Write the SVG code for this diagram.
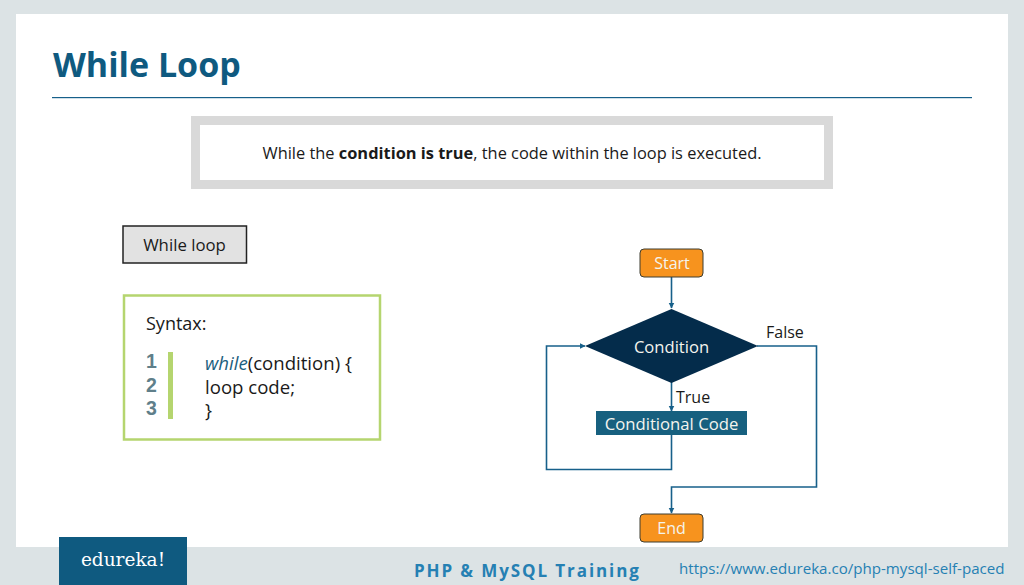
<svg xmlns="http://www.w3.org/2000/svg" width="1024" height="585" viewBox="0 0 1024 585">
<defs>
<style>
text{font-family:"Open Sans","Noto Sans","Liberation Sans",sans-serif;fill:#1a1a1a}
.c{text-anchor:middle}
.w{fill:#f4f4ee}
.conn{fill:none;stroke:#17608a;stroke-width:1.6}
.term{fill:#f7931e;stroke:#3d3d30;stroke-width:1}
.num{font-family:"Liberation Sans",sans-serif;font-weight:700;font-size:19.500px;fill:#5f7f8a}
.code{font-size:18.600px}
</style>
<marker id="a" markerWidth="7" markerHeight="7" refX="5.5" refY="3" orient="auto" markerUnits="userSpaceOnUse"><path d="M0 0L6 3L0 6Z" fill="#17608a"/></marker>
</defs>
<rect width="1024" height="585" fill="#dce3e5"/>
<rect x="16" y="14" width="992" height="533" fill="#fff"/>
<g id="title">
<text x="53" y="77" font-size="34" font-weight="700" style="fill:#0f5a80">While Loop</text>
<rect x="52" y="97" width="920" height="1.200" fill="#17608a"/>
</g>
<g id="banner">
<rect x="195.500" y="120.500" width="633" height="64" fill="#fff" stroke="#d9d9d9" stroke-width="9"/>
<text class="c" x="512" y="159" font-size="16.400">While the <tspan font-weight="700">condition is true</tspan>, the code within the loop is executed.</text>
</g>
<g id="while-loop">
<rect x="123" y="226" width="123.500" height="37" fill="#e2e2e2" stroke="#222" stroke-width="1.500"/>
<text class="c" x="184.500" y="251" font-size="16.800">While loop</text>
</g>
<g id="syntax">
<rect x="124" y="295.500" width="256" height="144" fill="#fff" stroke="#b5d56f" stroke-width="2.500"/>
<text x="146" y="330" font-size="18">Syntax:</text>
<text class="num" x="146" y="368">1</text>
<text class="num" x="146" y="392">2</text>
<text class="num" x="146" y="415">3</text>
<rect x="168" y="352" width="5" height="67" fill="#b5d56f"/>
<text class="code" x="205" y="370"><tspan font-style="italic" style="fill:#1c5f80">while</tspan>(condition) {</text>
<text class="code" x="205" y="394">loop code;</text>
<text class="code" x="205" y="417">}</text>
</g>
<g id="connectors">
<path class="conn" d="M671.500 277V308" marker-end="url(#a)"/>
<path class="conn" d="M671.500 382V411" marker-end="url(#a)"/>
<path class="conn" d="M671.500 434V469.500H546.500V346H585" marker-end="url(#a)"/>
<path class="conn" d="M757 346H816.500V487H671.500V513" marker-end="url(#a)"/>
</g>
<g id="start">
<rect x="640" y="249" width="63" height="28" rx="4" class="term"/>
<text class="c w" x="672" y="269" font-size="16">Start</text>
</g>
<g id="condition">
<path d="M585 346L671.500 309L758 346L671.500 383Z" fill="#042c4b"/>
<text class="c w" x="671.500" y="353" font-size="16.600">Condition</text>
</g>
<text id="false-label" x="766" y="338" font-size="16">False</text>
<text id="true-label" x="676" y="403" font-size="16">True</text>
<g id="conditional-code">
<rect x="596" y="411" width="151" height="24" fill="#17607f"/>
<text class="c w" x="671.500" y="430" font-size="16.700">Conditional Code</text>
</g>
<g id="end">
<rect x="640" y="514" width="63" height="28" rx="4" class="term"/>
<text class="c w" x="671.500" y="534" font-size="16">End</text>
</g>
<g id="footer">
<rect x="59" y="537" width="128" height="48" fill="#0f5a80"/>
<text class="c" x="123" y="566" font-size="18.500" style="font-family:'DejaVu Serif',serif;fill:#fff">edureka!</text>
<text x="414" y="577" font-size="17" font-weight="700" style="fill:#2580b3;letter-spacing:1.900px">PHP &amp; MySQL Training</text>
<text x="679" y="574" font-size="15.100" style="fill:#2580b3">https://www.edureka.co/php-mysql-self-paced</text>
</g>
</svg>
